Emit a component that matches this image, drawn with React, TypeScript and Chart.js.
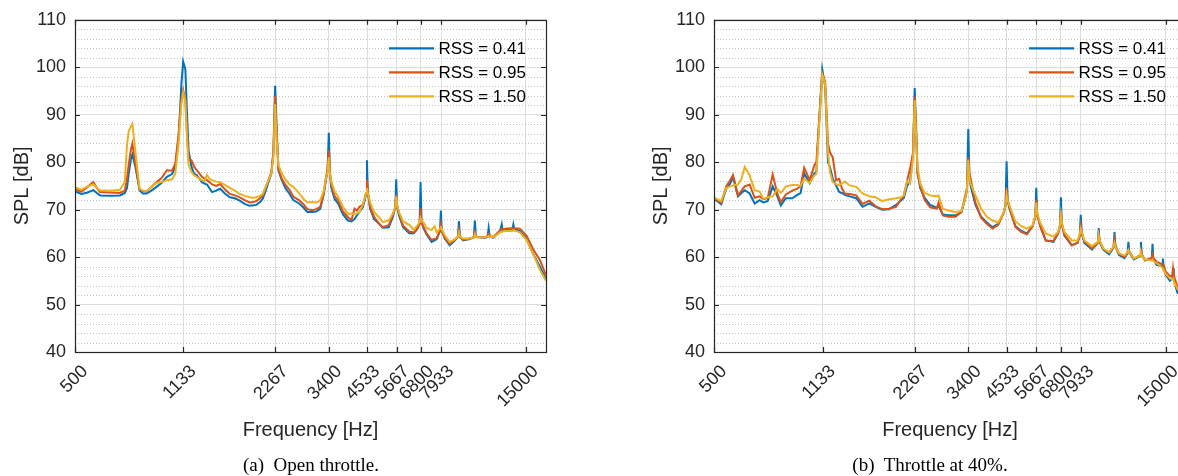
import React, { useEffect, useRef } from "react";
import { Chart, registerables } from "chart.js";

Chart.register(...registerables);

// ---------- data ----------
const xTickValues = [500, 1133, 2267, 3400, 4533, 5667, 6800, 7933, 15000];
const xTickLabels = ["500", "1133", "2267", "3400", "4533", "5667", "6800", "7933", "15000"];
const seriesLabels = ["RSS = 0.41", "RSS = 0.95", "RSS = 1.50"];
const seriesColors = ["#0072BD", "#D95319", "#EDB120"];
const captions = ["(a)  Open throttle.", "(b)  Throttle at 40%."];

// (a) open throttle
const freqOpen = [
  500, 506, 525, 550, 574, 590, 604, 651, 702, 728,
  740, 750, 762, 771, 790, 814, 835, 858, 890, 925,
  960, 1000, 1040, 1066, 1093, 1115, 1131, 1150, 1165, 1178,
  1205, 1230, 1253, 1280, 1303, 1330, 1354, 1380, 1408, 1450,
  1496, 1550, 1609, 1670, 1734, 1800, 1868, 1920, 1965, 2020,
  2063, 2110, 2148, 2200, 2235, 2265, 2290, 2322, 2381, 2450,
  2527, 2598, 2712, 2800, 2890, 2992, 3090, 3185, 3272, 3320,
  3365, 3397, 3425, 3460, 3550, 3642, 3780, 3926, 4030, 4125, 4200, 4280,
  4390, 4460, 4500, 4530, 4560, 4600, 4640, 4780, 4955, 5100, 5340, 5510, 5610, 5650, 5690, 5767, 5950, 6231, 6450, 6600, 6740, 6790, 6840, 6950, 7100, 7380,
  7550, 7665, 7860, 7915, 7970, 8150, 8460, 8790, 9000, 9070, 9140, 9360, 9850, 10150, 10230, 10310, 10640, 11050, 11260, 11350, 11440, 11770, 12370, 12530, 12610, 13020, 13590, 13680, 13770, 14360, 15120,
  15870, 16740, 17500,
];
const splOpen041 = [
  73.8, 73.7, 73.3, 73.6, 74.1, 73.5, 73.0, 72.9, 73.0, 73.5,
  74.5, 77.5, 80.5, 81.6, 78.8, 74.1, 73.4, 73.4, 74.0, 74.8,
  75.6, 76.9, 77.5, 79.0, 85.0, 96.0, 101.2, 99.6, 90.0, 82.5,
  79.0, 77.5, 77.3, 76.5, 75.8, 75.5, 75.3, 74.5, 73.7, 74.0,
  74.4, 73.4, 72.6, 72.4, 71.9, 71.2, 70.8, 70.9, 71.0, 71.6,
  72.3, 74.0, 75.6, 77.5, 82.0, 96.1, 88.0, 78.3, 76.2, 74.5,
  73.3, 72.0, 71.3, 70.5, 69.5, 69.5, 69.6, 70.2, 73.4, 76.0,
  78.5, 86.2, 77.5, 74.7, 72.2, 71.3, 69.0, 67.7, 67.5, 68.0, 68.8, 69.5,
  70.5, 72.0, 73.5, 80.4, 73.5, 72.0, 70.2, 68.0, 67.1, 66.2, 66.3, 68.5, 70.5, 76.4, 70.5, 68.8, 66.3, 65.0, 65.0, 65.8, 67.0, 75.8, 67.3, 66.0, 64.8, 63.2,
  63.5, 63.8, 65.5, 69.8, 65.5, 63.9, 62.5, 63.5, 64.2, 67.6, 64.3, 63.5, 63.8, 64.2, 67.7, 64.3, 64.2, 64.1, 64.3, 66.1, 64.3, 64.1, 65.5, 66.9, 65.7, 65.9, 66.0, 66.9, 66.0, 65.5, 63.8,
  60.7, 57.9, 55.3,
];
const splOpen095 = [
  74.3, 74.2, 73.8, 74.8, 75.8, 74.5, 73.7, 73.6, 73.5, 74.0,
  76.5, 79.5, 82.5, 83.9, 79.5, 74.3, 73.9, 73.8, 74.8, 75.8,
  76.6, 78.3, 78.2, 79.7, 86.0, 93.0, 95.2, 93.0, 86.0, 80.7,
  80.4, 79.0, 78.3, 77.6, 76.9, 76.5, 76.2, 75.8, 75.3, 75.0,
  75.4, 74.3, 73.3, 73.0, 72.6, 72.0, 71.5, 71.6, 71.8, 72.4,
  73.0, 74.8, 76.0, 77.8, 82.0, 94.0, 86.0, 78.5, 76.5, 75.2,
  74.1, 72.7, 72.0, 71.2, 70.1, 69.9, 70.1, 70.6, 73.5, 76.5,
  78.5, 82.5, 78.0, 75.5, 72.8, 72.0, 69.6, 68.4, 67.8, 70.2, 69.8, 70.6,
  71.0, 72.5, 73.5, 76.3, 73.5, 72.2, 70.5, 68.5, 67.1, 66.3, 66.7, 69.0, 70.5, 73.2, 70.8, 69.3, 66.6, 65.4, 65.2, 65.8, 67.0, 70.3, 67.3, 66.3, 65.0, 63.6,
  63.8, 64.0, 65.5, 66.8, 65.5, 64.1, 62.8, 63.7, 64.3, 65.7, 64.3, 63.6, 63.9, 64.2, 65.2, 64.3, 64.2, 64.2, 64.4, 64.9, 64.4, 64.3, 65.6, 66.0, 65.8, 66.0, 66.0, 66.2, 66.1, 66.0, 64.5,
  61.7, 59.3, 56.2,
];
const splOpen150 = [
  74.6, 74.6, 74.2, 74.9, 75.3, 74.6, 74.1, 74.0, 74.2, 75.8,
  83.5, 86.5, 87.5, 88.1, 81.8, 74.4, 74.0, 73.9, 74.7, 75.6,
  75.8, 76.2, 76.4, 77.6, 84.0, 92.0, 94.7, 93.0, 85.0, 79.5,
  77.9, 77.2, 76.9, 76.5, 76.2, 76.0, 77.3, 76.5, 76.2, 75.9,
  75.8, 75.2, 74.6, 74.0, 73.3, 72.9, 72.6, 72.5, 72.6, 72.9,
  73.3, 74.8, 76.0, 77.5, 81.0, 92.2, 85.0, 79.4, 77.6, 76.3,
  75.3, 74.8, 73.5, 72.3, 71.5, 71.6, 71.5, 72.0, 74.0, 76.5,
  78.0, 81.0, 77.5, 76.0, 73.8, 72.7, 70.6, 69.1, 69.2, 69.1, 69.2, 69.5,
  71.0, 72.5, 73.5, 74.5, 73.5, 72.5, 71.5, 69.5, 68.4, 67.4, 67.7, 69.2, 70.5, 72.8, 71.0, 69.5, 67.5, 66.8, 65.8, 66.5, 67.3, 68.2, 67.5, 67.3, 66.2, 65.7,
  66.5, 65.2, 66.0, 66.3, 65.8, 64.6, 63.2, 63.7, 64.3, 65.2, 64.3, 63.9, 63.9, 64.2, 64.9, 64.2, 64.2, 64.2, 64.3, 64.5, 64.3, 64.2, 65.2, 65.3, 65.4, 65.5, 65.5, 65.6, 65.6, 65.2, 63.6,
  60.7, 57.2, 55.0,
];

// (b) throttle at 40%
const freqPartial = [
  500, 512, 528, 549, 565, 577, 599, 615, 630, 654, 679, 705, 725, 749, 778, 806, 827, 859, 902, 936,
  960, 986, 1028, 1064, 1081, 1107, 1130, 1155, 1180, 1197, 1223, 1254, 1284, 1310, 1340, 1390, 1460, 1530, 1610, 1690,
  1775, 1870, 1970, 2050, 2090, 2140, 2190, 2240, 2267, 2290, 2316, 2364, 2444, 2547, 2677, 2713, 2802, 2922, 3087, 3223,
  3306, 3360, 3395, 3425, 3455, 3583, 3739, 3904, 4076, 4255, 4443, 4495, 4530, 4565, 4640, 4845, 5060, 5280, 5510, 5625,
  5665, 5705, 5830, 6085, 6440, 6680, 6770, 6820, 6870, 7005, 7400, 7730, 7860, 7920, 7980, 8140, 8620, 9010, 9070, 9130,
  9400, 9807, 10140, 10210, 10280, 10550, 11010, 11270, 11340, 11410, 11810, 12380, 12460, 12540, 12850, 13520, 13600, 13680, 14040, 14620,
  14700, 14780, 15000, 15500, 15790, 15870, 15950, 16400, 17500,
];
const splPartial041 = [
  72.3, 71.8, 71.1, 74.5, 75.5, 76.9, 72.8, 73.5, 74.1, 73.4, 71.3, 72.0, 71.5, 71.8, 74.9, 72.8, 70.9, 72.4, 72.4, 73.1,
  73.5, 77.6, 75.6, 77.6, 78.0, 90.0, 99.6, 96.0, 80.0, 79.0, 76.5, 75.1, 73.7, 73.5, 73.1, 72.8, 72.4, 70.6, 71.3, 70.6,
  70.0, 70.1, 71.0, 72.0, 72.5, 75.0, 76.0, 82.0, 95.6, 88.0, 78.0, 74.5, 72.5, 71.0, 70.4, 70.8, 69.0, 68.8, 68.8, 69.5,
  72.0, 74.0, 87.0, 77.0, 75.0, 71.0, 68.5, 67.3, 66.3, 67.0, 69.5, 71.0, 80.2, 72.0, 70.0, 66.5, 65.5, 65.0, 66.5, 68.5,
  74.6, 69.0, 66.8, 63.5, 63.2, 65.0, 66.5, 72.6, 67.0, 64.5, 62.5, 63.0, 64.5, 68.9, 65.0, 63.0, 61.6, 63.0, 66.1, 63.2,
  61.5, 60.6, 62.0, 65.3, 62.3, 60.5, 59.8, 60.8, 63.2, 61.0, 59.5, 60.2, 63.2, 60.5, 59.4, 59.5, 62.8, 59.6, 58.3, 58.2,
  59.7, 58.0, 56.3, 55.0, 55.5, 57.7, 55.3, 52.5, 51.0,
];
const splPartial095 = [
  72.5, 72.0, 71.4, 75.0, 76.2, 77.3, 73.0, 74.0, 74.9, 75.3, 72.5, 72.8, 72.2, 72.4, 77.4, 73.3, 71.6, 73.2, 74.0, 74.4,
  75.0, 78.8, 76.2, 79.3, 80.0, 90.0, 98.5, 97.0, 84.0, 82.1, 81.0, 76.2, 76.5, 74.5, 73.4, 73.3, 73.0, 71.2, 71.9, 70.7,
  70.1, 70.2, 70.6, 72.3, 73.0, 76.0, 78.7, 82.0, 93.8, 87.0, 77.5, 75.0, 72.0, 70.5, 70.2, 71.5, 68.8, 68.5, 68.5, 69.5,
  72.5, 74.5, 81.0, 77.5, 76.5, 71.5, 68.3, 67.0, 66.0, 66.8, 69.5, 71.0, 74.6, 72.0, 70.3, 66.3, 65.3, 64.8, 66.5, 68.5,
  72.0, 69.0, 66.5, 63.5, 63.4, 65.0, 66.5, 69.7, 67.0, 64.7, 62.5, 63.0, 64.5, 66.5, 65.0, 63.3, 61.8, 63.0, 64.5, 63.3,
  61.7, 61.0, 62.1, 63.7, 62.5, 60.8, 60.0, 61.0, 61.5, 61.2, 59.7, 60.4, 61.8, 60.6, 59.3, 59.8, 60.5, 59.8, 59.0, 58.5,
  58.5, 58.3, 57.0, 56.0, 56.0, 57.5, 56.2, 53.8, 52.3,
];
const splPartial150 = [
  72.6, 72.2, 71.8, 74.6, 74.9, 75.1, 75.3, 76.5, 79.0, 77.2, 74.1, 73.8, 72.3, 72.6, 72.8, 74.3, 73.5, 74.9, 75.2, 75.2,
  75.0, 76.5, 75.6, 77.2, 77.5, 89.0, 98.5, 96.5, 82.0, 78.0, 75.8, 75.4, 75.1, 75.5, 75.9, 75.1, 74.8, 73.4, 72.8, 72.6,
  71.8, 72.2, 72.4, 72.6, 73.0, 76.0, 75.5, 81.0, 93.1, 86.0, 79.0, 75.5, 73.5, 73.0, 72.8, 73.0, 70.2, 69.8, 69.5, 69.7,
  72.0, 74.0, 80.5, 76.5, 75.5, 73.0, 70.2, 68.5, 67.7, 67.3, 69.5, 71.0, 73.2, 72.0, 70.7, 67.5, 66.5, 66.0, 66.7, 68.7,
  71.5, 69.3, 67.3, 65.0, 64.3, 65.3, 66.8, 69.0, 67.3, 65.3, 63.5, 63.5, 64.8, 66.0, 65.3, 63.5, 62.3, 63.2, 64.6, 63.5,
  61.8, 61.0, 62.2, 63.0, 62.2, 60.8, 60.3, 61.0, 61.5, 61.0, 59.7, 60.3, 61.0, 60.3, 59.5, 59.3, 59.5, 59.2, 58.7, 57.8,
  57.5, 57.3, 56.5, 55.5, 55.3, 55.5, 55.0, 53.3, 51.8,
];

// ---------- styling ----------
const FONT = "'Liberation Sans', Arial, Helvetica, sans-serif";
const TEXT = "#262626";

const minorGridPlugin = {
  id: "minorGrid",
  beforeDatasetsDraw(chart: any) {
    const { ctx, chartArea: a, scales } = chart;
    const ys = scales.y;
    ctx.save();
    ctx.strokeStyle = "#c4c4c4";
    ctx.lineWidth = 1;
    ctx.setLineDash([1, 2]);
    for (let v = ys.min + 2; v < ys.max; v += 2) {
      if (v % 10 === 0) continue;
      const py = Math.round(ys.getPixelForValue(v)) + 0.5;
      ctx.beginPath();
      ctx.moveTo(a.left, py);
      ctx.lineTo(a.right, py);
      ctx.stroke();
    }
    ctx.restore();
  },
};

const framePlugin = {
  id: "matlabFrame",
  afterDatasetsDraw(chart: any) {
    const { ctx, chartArea: a, scales } = chart;
    const tl = 5;
    ctx.save();
    ctx.strokeStyle = TEXT;
    ctx.lineWidth = 1.2;
    ctx.setLineDash([]);
    ctx.beginPath();
    for (const v of xTickValues) {
      const px = Math.round(scales.x.getPixelForValue(v)) + 0.5;
      ctx.moveTo(px, a.bottom);
      ctx.lineTo(px, a.bottom - tl);
      ctx.moveTo(px, a.top);
      ctx.lineTo(px, a.top + tl);
    }
    for (let v = scales.y.min; v <= scales.y.max; v += 10) {
      const py = Math.round(scales.y.getPixelForValue(v)) + 0.5;
      ctx.moveTo(a.left, py);
      ctx.lineTo(a.left + tl, py);
      ctx.moveTo(a.right, py);
      ctx.lineTo(a.right - tl, py);
    }
    ctx.stroke();
    ctx.strokeRect(Math.round(a.left) + 0.5, Math.round(a.top) + 0.5, Math.round(a.right - a.left), Math.round(a.bottom - a.top));
    ctx.restore();
  },
};

const legendPlugin = {
  id: "matlabLegend",
  afterDraw(chart: any) {
    const { ctx, chartArea: a } = chart;
    ctx.save();
    ctx.font = `17px ${FONT}`;
    ctx.textBaseline = "middle";
    ctx.textAlign = "left";
    chart.data.datasets.forEach((ds: any, i: number) => {
      const y = a.top + 28.5 + i * 24;
      ctx.strokeStyle = ds.borderColor;
      ctx.lineWidth = 2.2;
      ctx.beginPath();
      ctx.moveTo(a.right - 157, y);
      ctx.lineTo(a.right - 112, y);
      ctx.stroke();
      ctx.fillStyle = "#000";
      ctx.fillText(ds.label, a.right - 107.5, y + 1);
    });
    ctx.restore();
  },
};

function makeConfig(freq: number[], series: number[][], padLeft: number): any {
  return {
    type: "line",
    data: {
      datasets: series.map((vals, i) => ({
        label: seriesLabels[i],
        data: freq.map((f, k) => ({ x: f, y: vals[k] })),
        borderColor: seriesColors[i],
        backgroundColor: seriesColors[i],
        borderWidth: 2,
        pointRadius: 0,
        tension: 0,
        order: series.length - i,
      })),
    },
    options: {
      animation: false,
      responsive: false,
      devicePixelRatio: 1,
      layout: { padding: { top: 19, left: padLeft, right: 54, bottom: 0 } },
      plugins: { legend: { display: false }, tooltip: { enabled: false } },
      scales: {
        x: {
          type: "logarithmic",
          min: 500,
          max: 17500,
          afterBuildTicks: (s: any) => {
            s.ticks = xTickValues.map((v) => ({ value: v }));
          },
          afterFit: (s: any) => {
            s.height = 124;
          },
          grid: { color: "#dedede", lineWidth: 1, drawTicks: false },
          border: { display: false },
          ticks: {
            autoSkip: false,
            minRotation: 45,
            maxRotation: 45,
            labelOffset: 10,
            padding: 9,
            color: TEXT,
            font: { family: FONT, size: 18 },
            callback: (v: number) => xTickLabels[xTickValues.indexOf(v)] ?? "",
          },
          title: {
            display: true,
            text: "Frequency [Hz]",
            color: TEXT,
            font: { family: FONT, size: 20 },
            padding: { top: 0, bottom: 34 },
          },
        },
        y: {
          min: 40,
          max: 110,
          afterFit: (s: any) => {
            s.width = 75;
          },
          grid: { color: "#dedede", lineWidth: 1, drawTicks: false },
          border: { display: false },
          ticks: {
            stepSize: 10,
            padding: 9,
            color: TEXT,
            font: { family: FONT, size: 18 },
          },
          title: {
            display: true,
            text: "SPL [dB]",
            color: TEXT,
            font: { family: FONT, size: 20 },
            padding: { top: 10, bottom: 0 },
          },
        },
      },
    },
    plugins: [minorGridPlugin, framePlugin, legendPlugin],
  };
}

function SplChart(props: { freq: number[]; series: number[][]; left: number; width: number; padLeft: number }) {
  const ref = useRef<HTMLCanvasElement>(null);
  useEffect(() => {
    if (!ref.current) return;
    const chart = new Chart(ref.current, makeConfig(props.freq, props.series, props.padLeft));
    return () => chart.destroy();
  }, []);
  return (
    <canvas
      ref={ref}
      width={props.width}
      height={476}
      style={{ position: "absolute", left: props.left, top: 0, width: props.width, height: 476 }}
    />
  );
}

export default function App() {
  const capStyle: React.CSSProperties = {
    position: "absolute",
    top: 453,
    transform: "translateX(-50%)",
    whiteSpace: "pre",
    fontFamily: "'Liberation Serif', 'DejaVu Serif', serif",
    fontSize: 19,
    color: "#000",
    lineHeight: "24px",
  };
  return (
    <div
      style={{
        position: "absolute",
        left: 0,
        top: 0,
        width: 1178,
        height: 476,
        overflow: "hidden",
        background: "#fff",
      }}
    >
      <SplChart freq={freqOpen} series={[splOpen041, splOpen095, splOpen150]} left={0} width={600} padLeft={0} />
      <SplChart
        freq={freqPartial}
        series={[splPartial041, splPartial095, splPartial150]}
        left={600}
        width={640}
        padLeft={39}
      />
      <div style={{ ...capStyle, left: 311 }}>{captions[0]}</div>
      <div style={{ ...capStyle, left: 930 }}>{captions[1]}</div>
    </div>
  );
}
